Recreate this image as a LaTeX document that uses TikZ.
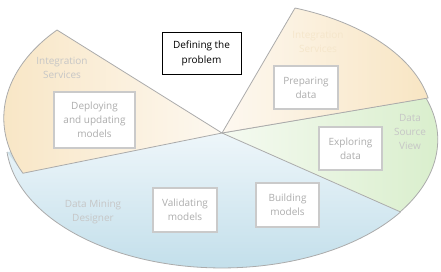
\documentclass[tikz,border=0pt]{standalone}
\usepackage{fontspec}
\setmainfont{Open Sans}
\usetikzlibrary{positioning}
\definecolor{tandark}   {HTML}{F8E5C3}
\definecolor{tanlight}  {HTML}{FDF8F0}
\definecolor{greendark} {HTML}{D8EECB}
\definecolor{greenlight}{HTML}{F5FAF1}
\definecolor{bluedark}  {HTML}{C1DEEA}
\definecolor{bluelight} {HTML}{EEF6FA}
\definecolor{blueshade} {HTML}{D0E3EB}
\definecolor{rimgray}   {HTML}{ABABAB}
\definecolor{boxgray}   {HTML}{CACACA}
\definecolor{textgray}  {HTML}{ADADAD}
\definecolor{labelgray} {HTML}{C6C6C6}
\definecolor{ghosttan}  {HTML}{F5E6CB}
\tikzset{
  rim/.style      ={draw=rimgray, line width=0.8pt, line join=round},
  stagebox/.style ={draw=boxgray, fill=white, line width=1.2pt,
                    align=center, text=textgray, inner sep=0pt,
                    font=\fontsize{10}{14}\selectfont},
  goalbox/.style  ={draw=black, fill=white, line width=0.9pt,
                    align=center, text=black, inner sep=0pt,
                    font=\fontsize{10}{15}\selectfont},
  toolname/.style ={align=center, text=labelgray, inner sep=0pt,
                    font=\fontsize{10}{14}\selectfont},
}
\begin{document}
\begin{tikzpicture}[x=1pt,y=1pt]
  \useasboundingbox (0,0) rectangle (441,-271);
  \coordinate (hub) at (222,-133);

  % blue slice (behind the others)
  \shade[top color=bluelight, bottom color=bluedark]
    (hub) -- (7,-152) arc[start angle=185.4, end angle=325.7, x radius=216, y radius=128]
    coordinate (bg) -- cycle;
  \shade[left color=blueshade, right color=bluelight] (7,-152) -- (23,-173) -- (hub) -- cycle;
  \draw[rim] (7,-152) arc[start angle=185.4, end angle=325.7, x radius=216, y radius=128];

  % green slice
  \shadedraw[rim, left color=greenlight, right color=greendark]
    (hub) -- (426,-98) arc[start angle=19, end angle=-34.3, x radius=216, y radius=128] -- cycle;

  % tan slices
  \shadedraw[rim, left color=tanlight, right color=tandark]
    (hub) -- (295,-8) arc[start angle=69.7, end angle=11.2, x radius=210, y radius=121] -- cycle;
  \shadedraw[rim, left color=tandark, right color=tanlight]
    (hub) -- (57,-30) arc[start angle=138.9, end angle=204.3, x radius=216, y radius=134] -- cycle;

  % tool names
  \node[toolname] (integ) at (62,-68) {Integration\\Services};
  \node[toolname, text=ghosttan] (ghost) at (318,-42) {Integration\\Services};
  \node[toolname] (dsv) at (410,-132) {Data\\Source\\View};
  \node[toolname] (dmd) at (93,-212) {Data Mining\\Designer};

  % stages
  \node[goalbox, minimum width=79pt, minimum height=42pt] (problem) at (201.5,-53) {Defining the\\problem};
  \node[stagebox, minimum width=81pt, minimum height=56pt] (deploy) at (94.5,-120) {Deploying\\and updating\\models};
  \node[stagebox, minimum width=64pt, minimum height=43pt] (prepare) at (306,-87.5) {Preparing\\data};
  \node[stagebox, minimum width=63pt, minimum height=43pt] (explore) at (350.5,-148.5) {Exploring\\data};
  \node[stagebox, minimum width=63pt, minimum height=44pt] (build) at (287.5,-205) {Building\\models};
  \node[stagebox, minimum width=64pt, minimum height=44pt] (validate) at (185,-210) {Validating\\models};
\end{tikzpicture}
\end{document}
